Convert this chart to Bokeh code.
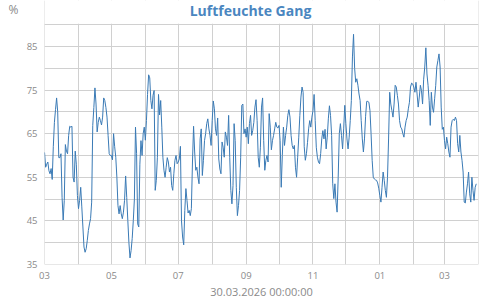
import pandas as pd
from bokeh.plotting import figure
from bokeh.models import (FixedTicker, DatetimeTickFormatter, Range1d, ColumnDataSource, Title,
                          LinearAxis, Label, BoxAnnotation)
from bokeh.embed import file_html
from bokeh.resources import INLINE

title_text = "Luftfeuchte Gang"
unit_text = "%"
x_title = "30.03.2026 00:00:00"

# daily relative humidity (%) per month
mar25 = [60.7, 57.3, 58.0, 58.5, 56.5, 55.8, 57.0, 54.5, 62.0, 67.6, 70.5, 73.2, 70.0, 59.5, 59.5, 60.4,
         50.4, 45.2, 49.7, 62.5, 61.0, 60.4, 64.6, 66.7, 66.5, 66.7, 55.0, 53.9, 61.0, 58.0, 50.8]
apr25 = [47.8, 49.7, 52.7, 48.2, 43.6, 39.0, 37.8, 38.6, 40.5, 42.8, 44.3, 45.5, 49.3, 66.9, 71.0, 75.5,
         71.8, 65.4, 67.6, 68.8, 68.0, 67.0, 68.8, 73.2, 72.6, 71.0, 68.8, 64.6, 60.4, 60.0]
may25 = [60.0, 59.0, 65.0, 62.0, 59.6, 55.0, 48.5, 46.6, 48.5, 46.6, 45.5, 47.0, 49.7, 55.3, 50.4, 45.1,
         40.0, 36.5, 38.2, 41.0, 45.1, 50.0, 66.5, 60.4, 44.3, 43.6, 58.0, 63.4, 60.0, 65.0, 66.5]
jun25 = [63.5, 68.0, 74.0, 78.5, 77.8, 72.6, 70.7, 73.8, 74.9, 52.0, 54.3, 59.6, 74.0, 69.3, 72.6, 66.5,
         59.6, 56.6, 55.0, 57.3, 59.5, 58.5, 56.2, 57.3, 53.1, 52.0, 55.8, 58.9, 60.0, 58.1]
jul25 = [58.5, 59.2, 62.1, 45.0, 41.3, 39.5, 47.4, 52.4, 49.7, 46.8, 47.4, 46.2, 47.8, 58.5, 66.7, 60.8,
         56.6, 57.3, 55.0, 53.5, 63.8, 66.1, 55.4, 58.9, 63.4, 65.0, 67.3, 68.4, 66.1, 64.6, 62.3]
aug25 = [68.0, 72.5, 70.7, 66.1, 64.6, 68.6, 59.2, 56.9, 55.8, 63.1, 61.9, 59.6, 65.4, 64.2, 62.3, 69.2,
         59.6, 52.0, 48.9, 53.1, 67.3, 63.4, 52.7, 46.2, 48.5, 52.0, 59.6, 71.5, 71.8, 65.0, 66.1]
sep25 = [64.2, 66.5, 62.7, 67.3, 69.2, 64.6, 65.7, 67.6, 71.1, 72.8, 68.0, 59.6, 57.3, 61.9, 71.1, 73.2,
         63.4, 56.6, 58.9, 60.0, 58.5, 69.6, 66.5, 61.3, 63.4, 64.6, 66.1, 67.6, 66.5, 66.3]
oct25 = [66.9, 63.4, 52.7, 60.0, 66.5, 62.3, 64.6, 66.5, 69.2, 70.5, 68.8, 64.6, 62.3, 61.5, 62.3, 57.3,
         55.0, 59.6, 64.2, 69.2, 73.4, 75.7, 74.5, 62.0, 58.9, 60.4, 63.0, 66.1, 68.0, 66.5, 68.8]
nov25 = [70.3, 74.0, 68.0, 61.9, 59.6, 58.5, 58.1, 60.4, 63.8, 65.7, 63.8, 66.0, 61.5, 64.2, 68.4, 71.4,
         69.2, 64.6, 53.5, 50.1, 53.5, 49.3, 47.0, 55.0, 65.0, 67.3, 64.6, 61.5, 66.1, 71.5]
dec25 = [67.3, 63.8, 61.5, 64.2, 68.0, 72.6, 82.6, 87.8, 80.0, 76.8, 77.6, 76.1, 74.1, 72.6, 68.0, 63.8,
         60.8, 63.8, 69.0, 72.4, 72.4, 72.2, 70.3, 65.0, 58.9, 55.0, 54.6, 54.4, 54.3, 53.7, 52.5]
jan26 = [50.8, 49.3, 52.7, 56.2, 54.3, 52.0, 50.4, 55.0, 64.0, 74.5, 71.8, 70.3, 68.8, 71.8, 76.1, 75.7,
         73.8, 71.8, 68.0, 66.5, 66.1, 65.0, 64.2, 66.5, 68.0, 68.8, 70.7, 72.2, 75.7, 76.6, 76.4]
feb26 = [75.7, 74.5, 76.8, 74.1, 71.1, 73.4, 76.1, 74.9, 71.8, 77.5, 80.3, 84.7, 78.7, 76.1, 72.6, 66.9,
         74.5, 71.1, 69.9, 73.0, 76.1, 80.3, 81.8, 83.3, 80.3, 71.1, 66.0, 66.5]
mar26 = [63.4, 61.5, 64.2, 62.7, 60.8, 59.6, 66.5, 68.0, 68.3, 68.0, 68.8, 68.0, 62.7, 60.8, 64.6, 60.8,
         58.9, 56.2, 49.3, 49.1, 51.6, 53.5, 56.2, 51.2, 49.3, 55.0, 52.0, 49.7, 52.7, 53.5]

month_starts = ["2025-03-01", "2025-04-01", "2025-05-01", "2025-06-01", "2025-07-01", "2025-08-01",
                "2025-09-01", "2025-10-01", "2025-11-01", "2025-12-01", "2026-01-01", "2026-02-01",
                "2026-03-01"]
month_values = [mar25, apr25, may25, jun25, jul25, aug25, sep25, oct25, nov25, dec25, jan26, feb26, mar26]

y_major = [35, 45, 55, 65, 75, 85]
y_minor = [40, 50, 60, 70, 80, 90]
y_top = 90
x_major = ["2025-03-01", "2025-05-01", "2025-07-01", "2025-09-01", "2025-11-01", "2026-01-01", "2026-03-01"]
x_minor = ["2025-04-01", "2025-06-01", "2025-08-01", "2025-10-01", "2025-12-01", "2026-02-01", "2026-04-01"]

dates, vals = [], []
for start, v in zip(month_starts, month_values):
    dates.extend(pd.date_range(start=start, periods=len(v), freq="D"))
    vals.extend(v)
src = ColumnDataSource(dict(t=dates, h=vals))


def ms(s):
    return pd.Timestamp(s).value // 10**6


GRID = "#d0d0d0"
TXT = "#8a8a8a"
FONT = "Open Sans"
hour = pd.Timedelta(hours=1)

# the frame reaches the top of the page so the title and unit can sit in it;
# the visible plot box is drawn by the grid lines (35..90, Mar 2025..Apr 2026)
p = figure(width=500, height=300, x_axis_type="datetime", output_backend="svg", toolbar_location=None,
           x_range=Range1d(pd.Timestamp("2025-03-01") - hour, pd.Timestamp("2026-04-01") + hour),
           y_range=Range1d(34.99, 95.55),
           min_border_left=44, min_border_right=22, min_border_top=0, min_border_bottom=36)
p.title_location = None
p.background_fill_color = "white"
p.border_fill_color = "white"
p.outline_line_color = None

p.line("t", "h", source=src, line_color="#3a7ab5", line_width=1)

p.xaxis.ticker = FixedTicker(ticks=[ms(s) for s in x_major], minor_ticks=[ms(s) for s in x_minor])
p.xaxis.formatter = DatetimeTickFormatter(days="%m", months="%m", years="%m", hours="%m")
p.yaxis.ticker = FixedTicker(ticks=y_major, minor_ticks=y_minor)

for ax in (p.xaxis, p.yaxis):
    ax.axis_line_color = None
    ax.major_tick_line_color = None
    ax.minor_tick_line_color = None
    ax.major_tick_out = 0
    ax.minor_tick_out = 0
    ax.major_label_text_color = TXT
    ax.major_label_text_font = FONT
    ax.major_label_text_font_size = "9.5px"
p.xaxis.major_label_standoff = 7
p.yaxis.major_label_standoff = 7

for g in (p.xgrid, p.ygrid):
    g.grid_line_color = GRID
    g.minor_grid_line_color = GRID
    g.grid_line_width = 1
    g.minor_grid_line_width = 1

# hide the vertical grid lines above the 90 % line (title area)
p.add_layout(BoxAnnotation(bottom=y_top + 0.2, fill_color="white", fill_alpha=1, line_color=None,
                           level="underlay"))

# unit "%" top left, as the only tick label of an outer left axis
unit_axis = LinearAxis(ticker=FixedTicker(ticks=[93.5]), major_label_overrides={93.5: unit_text},
                       axis_line_color=None, major_tick_line_color=None, minor_tick_line_color=None,
                       major_tick_out=0, minor_tick_out=0, major_tick_in=0, minor_tick_in=0,
                       major_label_standoff=5, major_label_text_font=FONT,
                       major_label_text_font_size="12px", major_label_text_color=TXT)
p.add_layout(unit_axis, "left")

# chart title
p.add_layout(Label(x=206, y=254, x_units="screen", y_units="screen", text=title_text,
                   text_align="center", text_baseline="middle", text_font=FONT,
                   text_font_size="14px", text_font_style="bold", text_color="#4a86c0"))

# x title below the axis
p.add_layout(Title(text=x_title, align="center", text_font=FONT, text_font_size="11px",
                   text_font_style="normal", text_color=TXT, standoff=0), "below")

open("out.html", "w").write(file_html(p, INLINE))
